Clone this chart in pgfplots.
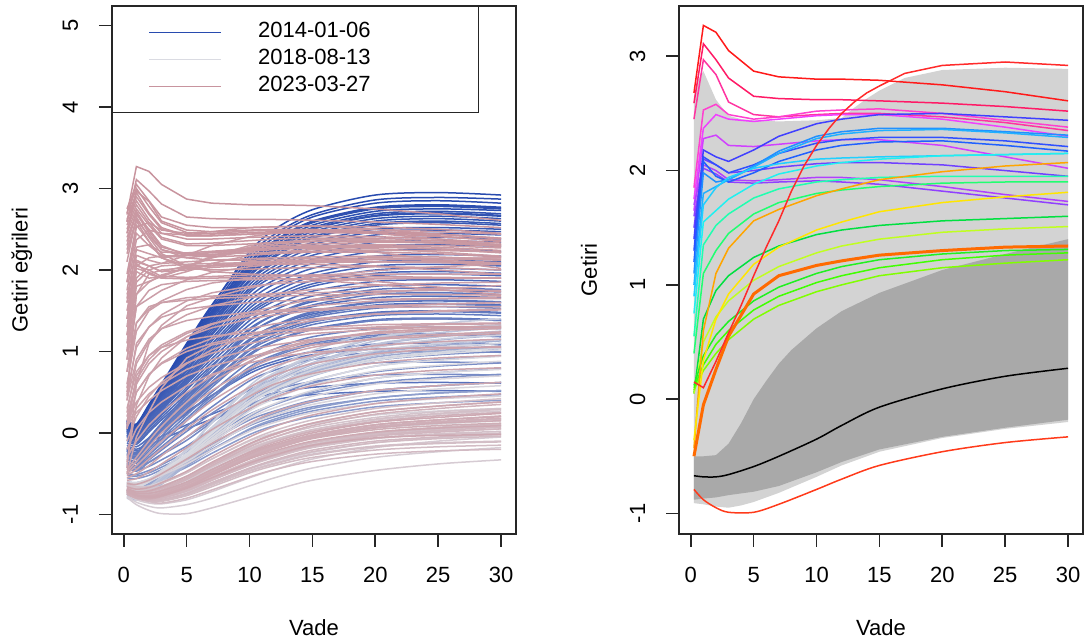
\documentclass[border=0pt]{standalone}
\usepackage{fontspec}
\setmainfont{Liberation Sans}
\usepackage{pgfplots}
\pgfplotsset{compat=1.18}

% colour ramp for the yield curves (2014 -> 2018 -> 2023)
\definecolor{blueL}{RGB}{40,75,175}
\definecolor{greyL}{RGB}{218,219,226}
\definecolor{pinkL}{RGB}{200,148,158}
% functional boxplot regions
\definecolor{boxgrey}{RGB}{211,211,211}
\definecolor{iqrgrey}{RGB}{169,169,169}
% rainbow colours of the outlying curves
\definecolor{o1}{HTML}{FF1A1A}\definecolor{o2}{HTML}{FF1A66}\definecolor{o3}{HTML}{FF33A0}
\definecolor{o4}{HTML}{FF40D0}\definecolor{o5}{HTML}{F040FF}\definecolor{o6}{HTML}{D040FF}
\definecolor{o7}{HTML}{B040FF}\definecolor{o8}{HTML}{9040FF}\definecolor{o9}{HTML}{7040FF}
\definecolor{o10}{HTML}{4040FF}\definecolor{o11}{HTML}{3050FF}\definecolor{o12}{HTML}{2060FF}
\definecolor{o13}{HTML}{2090FF}\definecolor{o14}{HTML}{20B0FF}\definecolor{o15}{HTML}{20D0FF}
\definecolor{o16}{HTML}{20F0F0}\definecolor{o17}{HTML}{20FFB0}\definecolor{o18}{HTML}{20FF70}
\definecolor{o19}{HTML}{00E040}\definecolor{o20}{HTML}{C0FF20}\definecolor{o21}{HTML}{80FF00}
\definecolor{o22}{HTML}{40FF00}\definecolor{o23}{HTML}{20F020}\definecolor{o24}{HTML}{FFA500}
\definecolor{o25}{HTML}{FFE600}\definecolor{o26}{HTML}{FF6A00}\definecolor{o27}{HTML}{FF2A2A}
\definecolor{o28}{HTML}{FF3A1A}

% maturity grid (years) shared by all curves
\newcommand\mat[1]{\ifcase#1 0.25\or 1\or 2\or 3\or 5\or 7\or 10\or 12\or 15\or 20\or 25\or 30\fi}
% pair a list of yields with the maturity grid
\newcommand\mkpts[1]{\gdef\pts{}\foreach \yv [count=\k from 0] in {#1}{\xdef\pts{\pts(\mat{\k},\yv)}}}
% left panel: #1 extra options, #2 position in time (0..1), #3 yields
\newcommand\crvL[3]{%
  \mkpts{#3}%
  \pgfmathsetmacro\rampt{#2}%
  \ifdim\rampt pt<0.5pt
    \pgfmathtruncatemacro\pc{round(200*\rampt)}%
    \edef\next{\noexpand\addplot[curveL,#1,color=greyL!\pc!blueL] coordinates {\pts};}%
  \else
    \pgfmathtruncatemacro\pc{round(200*(\rampt-0.5))}%
    \edef\next{\noexpand\addplot[curveL,#1,color=pinkL!\pc!greyL] coordinates {\pts};}%
  \fi
  \next}
% right panel: #1 options, #2 yields
\newcommand\crvR[2]{\mkpts{#2}\edef\next{\noexpand\addplot[curveR,#1] coordinates {\pts};}\next}
% legend text cell of fixed width
\newcommand\legtext[1]{\makebox[92pt][l]{#1}}

\pgfplotsset{
  curveL/.style={line width=0.75pt, mark=none},
  curveR/.style={line width=0.75pt, mark=none},
  Rbox/.style={
    scale only axis, width=202pt, height=264pt, anchor=south west,
    axis line style={line width=0.8pt, black!85},
    tick style={line width=0.8pt, black!85},
    tick align=outside, major tick length=6.5pt, tick pos=left,
    xmin=-0.94, xmax=31.19,
    xtick={0,5,...,30}, xticklabels={0,5,10,15,20,25,30},
    xticklabel style={anchor=base, inner sep=0pt, yshift=-18pt},
    yticklabel style={rotate=90, anchor=base, inner sep=0pt, yshift=10.5pt},
    xlabel={Vade},
    xlabel style={at={(axis description cs:0.5,0)}, anchor=center, yshift=-47pt},
  },
}

\begin{document}
\begin{tikzpicture}[font=\fontsize{11}{13.2}\selectfont]
%---------------------------------------------------------------- left panel
\begin{axis}[Rbox, at={(56pt,54.5pt)},
  ymin=-1.24, ymax=5.24, ytick={-1,0,...,5}, yticklabels={-1,0,1,2,3,4,5},
  ylabel={Getiri eğrileri},
  ylabel style={at={(axis description cs:-0.223,0.5)}, anchor=center},
  legend style={at={(axis description cs:0,1)}, anchor=north west, draw=black!85,
    line width=0.6pt, fill=white, inner xsep=18pt, inner ysep=6.25pt,
    nodes={inner sep=0pt, text height=9.25pt, text depth=4.25pt},
    /tikz/every odd column/.append style={column sep=18pt}},
  legend image code/.code={\draw[#1,line width=0.8pt] (0pt,0pt) -- (36pt,0pt);},
  legend cell align=left,
]
\addlegendimage{color=blueL}
\addlegendentry{\legtext{2014-01-06}}
\addlegendimage{color=greyL}
\addlegendentry{\legtext{2018-08-13}}
\addlegendimage{color=pinkL}
\addlegendentry{\legtext{2023-03-27}}

% 2014-2015
\crvL{smooth}{0.000}{0.15,0.10,0.33,0.58,1.08,1.56,2.22,2.50,2.74,2.92,2.95,2.92}
\crvL{smooth}{0.003}{0.16,0.11,0.35,0.60,1.10,1.57,2.18,2.44,2.68,2.86,2.89,2.87}
\crvL{smooth}{0.006}{0.15,0.10,0.34,0.58,1.06,1.53,2.14,2.40,2.65,2.82,2.85,2.82}
\crvL{smooth}{0.009}{0.14,0.09,0.32,0.56,1.03,1.49,2.09,2.35,2.59,2.76,2.79,2.76}
\crvL{smooth}{0.012}{0.14,0.09,0.33,0.57,1.04,1.50,2.10,2.36,2.60,2.77,2.80,2.77}
\crvL{smooth}{0.015}{0.12,0.07,0.30,0.54,1.00,1.46,2.05,2.31,2.55,2.72,2.75,2.73}
\crvL{smooth}{0.018}{0.13,0.08,0.31,0.56,1.02,1.48,2.08,2.34,2.58,2.75,2.78,2.75}
\crvL{smooth}{0.021}{0.12,0.07,0.30,0.53,0.98,1.43,2.02,2.27,2.50,2.66,2.69,2.66}
\crvL{smooth}{0.024}{0.11,0.06,0.29,0.53,0.99,1.44,2.03,2.28,2.52,2.69,2.72,2.69}
\crvL{smooth}{0.028}{0.09,0.04,0.27,0.51,0.97,1.42,2.01,2.26,2.50,2.67,2.70,2.67}
\crvL{smooth}{0.032}{0.13,0.08,0.30,0.54,0.98,1.42,1.99,2.24,2.47,2.63,2.66,2.63}
\crvL{smooth}{0.036}{0.10,0.05,0.27,0.50,0.95,1.39,1.97,2.21,2.44,2.60,2.63,2.60}
\crvL{smooth}{0.040}{0.08,0.03,0.25,0.48,0.93,1.36,1.94,2.18,2.41,2.57,2.60,2.57}
\crvL{smooth}{0.044}{0.07,0.02,0.24,0.47,0.92,1.35,1.92,2.16,2.39,2.55,2.58,2.55}
\crvL{smooth}{0.048}{0.09,0.04,0.26,0.48,0.91,1.33,1.88,2.11,2.34,2.50,2.52,2.50}
\crvL{smooth}{0.052}{0.07,0.02,0.24,0.46,0.89,1.31,1.86,2.09,2.31,2.47,2.49,2.47}
\crvL{smooth}{0.056}{0.06,0.01,0.22,0.44,0.87,1.28,1.82,2.05,2.27,2.43,2.45,2.43}
\crvL{smooth}{0.060}{0.05,0.00,0.21,0.42,0.84,1.25,1.78,2.01,2.22,2.38,2.40,2.38}
\crvL{smooth}{0.064}{0.05,0.00,0.21,0.42,0.83,1.22,1.75,1.97,2.18,2.34,2.36,2.34}
\crvL{smooth}{0.068}{0.04,-0.01,0.20,0.40,0.81,1.20,1.72,1.93,2.13,2.29,2.31,2.29}
\crvL{smooth}{0.072}{0.03,-0.02,0.18,0.38,0.78,1.16,1.67,1.88,2.08,2.23,2.25,2.23}
\crvL{smooth}{0.076}{0.02,-0.03,0.18,0.37,0.76,1.13,1.62,1.83,2.02,2.17,2.19,2.17}
\crvL{smooth}{0.080}{0.03,-0.02,0.17,0.36,0.73,1.09,1.57,1.77,1.96,2.10,2.12,2.10}
\crvL{smooth}{0.084}{0.02,-0.03,0.16,0.35,0.71,1.06,1.53,1.73,1.92,2.05,2.07,2.05}
\crvL{smooth}{0.088}{0.01,-0.04,0.14,0.33,0.68,1.03,1.49,1.68,1.87,2.00,2.02,2.00}
\crvL{smooth}{0.092}{0.00,-0.05,0.13,0.31,0.66,1.00,1.46,1.65,1.83,1.96,1.98,1.96}
\crvL{smooth}{0.096}{-0.02,-0.07,0.11,0.29,0.64,0.98,1.43,1.62,1.80,1.93,1.95,1.93}
\crvL{smooth}{0.100}{-0.03,-0.08,0.10,0.28,0.62,0.95,1.38,1.56,1.74,1.86,1.88,1.86}
\crvL{smooth}{0.104}{-0.02,-0.07,0.10,0.27,0.60,0.91,1.33,1.51,1.68,1.80,1.82,1.80}
\crvL{smooth}{0.108}{-0.04,-0.09,0.08,0.24,0.56,0.87,1.28,1.45,1.61,1.73,1.75,1.73}
\crvL{smooth}{0.112}{-0.05,-0.10,0.06,0.22,0.53,0.83,1.22,1.39,1.55,1.66,1.68,1.66}
\crvL{smooth}{0.116}{-0.07,-0.12,0.03,0.19,0.48,0.77,1.15,1.31,1.46,1.57,1.59,1.57}
\crvL{smooth}{0.120}{-0.09,-0.14,0.01,0.16,0.44,0.71,1.08,1.23,1.38,1.48,1.50,1.48}
\crvL{smooth}{0.124}{-0.12,-0.17,-0.06,0.05,0.26,0.46,0.73,0.85,0.96,1.03,1.04,1.03}
\crvL{smooth}{0.128}{-0.15,-0.20,-0.12,-0.04,0.10,0.23,0.41,0.49,0.56,0.61,0.62,0.61}
\crvL{smooth}{0.132}{-0.17,-0.22,-0.15,-0.08,0.05,0.17,0.34,0.41,0.47,0.51,0.52,0.51}
\crvL{smooth}{0.136}{-0.19,-0.24,-0.11,0.00,0.24,0.46,0.76,0.88,1.00,1.09,1.10,1.09}
\crvL{smooth}{0.140}{-0.20,-0.25,-0.10,0.04,0.33,0.60,0.97,1.13,1.28,1.39,1.41,1.39}
\crvL{smooth}{0.144}{-0.22,-0.27,-0.10,0.07,0.40,0.71,1.13,1.31,1.48,1.60,1.62,1.60}
\crvL{smooth}{0.148}{-0.21,-0.26,-0.08,0.10,0.44,0.77,1.21,1.40,1.57,1.70,1.72,1.70}
\crvL{smooth}{0.152}{-0.19,-0.24,-0.06,0.12,0.47,0.81,1.26,1.45,1.63,1.76,1.78,1.76}
\crvL{smooth}{0.156}{-0.20,-0.25,-0.09,0.08,0.41,0.72,1.14,1.32,1.49,1.61,1.63,1.61}
\crvL{smooth}{0.160}{-0.22,-0.27,-0.11,0.06,0.37,0.68,1.08,1.25,1.42,1.53,1.55,1.53}
\crvL{smooth}{0.165}{-0.24,-0.29,-0.13,0.03,0.33,0.62,1.01,1.17,1.33,1.44,1.46,1.44}
\crvL{smooth}{0.170}{-0.25,-0.30,-0.15,0.01,0.30,0.59,0.96,1.12,1.27,1.38,1.40,1.38}
\crvL{smooth}{0.175}{-0.26,-0.31,-0.14,0.02,0.33,0.63,1.03,1.20,1.36,1.47,1.49,1.47}
\crvL{smooth}{0.180}{-0.27,-0.32,-0.15,0.02,0.35,0.67,1.09,1.27,1.44,1.56,1.58,1.56}
\crvL{smooth}{0.185}{-0.30,-0.35,-0.19,-0.04,0.27,0.56,0.95,1.12,1.27,1.38,1.40,1.38}
\crvL{smooth}{0.190}{-0.32,-0.37,-0.22,-0.07,0.22,0.50,0.87,1.03,1.18,1.28,1.30,1.28}
\crvL{smooth}{0.195}{-0.35,-0.40,-0.25,-0.10,0.18,0.45,0.81,0.96,1.10,1.20,1.22,1.20}
\crvL{smooth}{0.200}{-0.37,-0.42,-0.27,-0.13,0.15,0.42,0.78,0.94,1.08,1.18,1.20,1.18}
\crvL{smooth}{0.205}{-0.38,-0.43,-0.30,-0.17,0.08,0.32,0.64,0.77,0.90,0.99,1.00,0.99}
\crvL{smooth}{0.210}{-0.40,-0.45,-0.33,-0.21,0.02,0.24,0.53,0.66,0.77,0.86,0.87,0.86}
\crvL{smooth}{0.215}{-0.42,-0.47,-0.36,-0.26,-0.05,0.15,0.42,0.53,0.63,0.71,0.72,0.71}
% 2016-2019
\crvL{smooth}{0.22}{-0.40,-0.41,-0.36,-0.27,-0.09,0.13,0.44,0.58,0.73,0.89,0.96,1.00}
\crvL{smooth}{0.23}{-0.45,-0.46,-0.41,-0.33,-0.16,0.05,0.34,0.47,0.61,0.75,0.82,0.86}
\crvL{smooth}{0.24}{-0.50,-0.51,-0.46,-0.39,-0.23,-0.04,0.23,0.35,0.49,0.62,0.68,0.72}
\crvL{smooth}{0.25}{-0.52,-0.53,-0.49,-0.42,-0.27,-0.09,0.16,0.27,0.40,0.52,0.58,0.62}
\crvL{smooth}{0.26}{-0.55,-0.56,-0.52,-0.45,-0.31,-0.14,0.09,0.20,0.32,0.43,0.49,0.52}
\crvL{smooth}{0.27}{-0.60,-0.61,-0.57,-0.51,-0.37,-0.20,0.04,0.15,0.27,0.39,0.44,0.47}
\crvL{smooth}{0.28}{-0.65,-0.66,-0.62,-0.56,-0.42,-0.25,-0.02,0.09,0.20,0.32,0.37,0.40}
\crvL{smooth}{0.29}{-0.65,-0.66,-0.62,-0.55,-0.40,-0.21,0.05,0.17,0.30,0.43,0.49,0.52}
\crvL{smooth}{0.30}{-0.65,-0.66,-0.61,-0.54,-0.37,-0.17,0.11,0.24,0.38,0.52,0.58,0.62}
\crvL{smooth}{0.31}{-0.68,-0.70,-0.63,-0.55,-0.35,-0.12,0.20,0.35,0.51,0.67,0.74,0.79}
\crvL{smooth}{0.32}{-0.70,-0.72,-0.65,-0.55,-0.34,-0.07,0.29,0.46,0.64,0.82,0.90,0.95}
\crvL{smooth}{0.33}{-0.70,-0.72,-0.64,-0.54,-0.31,-0.03,0.36,0.54,0.74,0.93,1.01,1.07}
\crvL{smooth}{0.34}{-0.72,-0.74,-0.66,-0.55,-0.30,0.01,0.43,0.62,0.84,1.05,1.14,1.20}
\crvL{smooth}{0.35}{-0.76,-0.78,-0.70,-0.59,-0.35,-0.05,0.37,0.56,0.77,0.98,1.07,1.13}
\crvL{smooth}{0.36}{-0.80,-0.82,-0.74,-0.63,-0.39,-0.10,0.31,0.50,0.70,0.90,0.99,1.05}
\crvL{smooth}{0.37}{-0.78,-0.80,-0.72,-0.61,-0.36,-0.06,0.35,0.54,0.75,0.95,1.04,1.10}
\crvL{smooth}{0.38}{-0.75,-0.77,-0.69,-0.58,-0.33,-0.03,0.39,0.58,0.79,1.00,1.09,1.15}
\crvL{smooth}{0.39}{-0.74,-0.76,-0.68,-0.56,-0.30,0.02,0.45,0.65,0.86,1.08,1.18,1.24}
\crvL{smooth}{0.40}{-0.72,-0.74,-0.66,-0.54,-0.27,0.06,0.50,0.71,0.93,1.16,1.26,1.32}
\crvL{smooth}{0.41}{-0.75,-0.77,-0.69,-0.57,-0.30,0.03,0.48,0.68,0.90,1.13,1.23,1.29}
\crvL{smooth}{0.42}{-0.78,-0.80,-0.72,-0.60,-0.33,-0.01,0.44,0.64,0.86,1.09,1.19,1.25}
\crvL{smooth}{0.43}{-0.72,-0.74,-0.66,-0.54,-0.27,0.06,0.51,0.72,0.94,1.17,1.27,1.33}
\crvL{smooth}{0.44}{-0.65,-0.67,-0.59,-0.47,-0.20,0.13,0.58,0.79,1.01,1.24,1.34,1.40}
\crvL{smooth}{0.45}{-0.63,-0.65,-0.58,-0.46,-0.20,0.12,0.55,0.74,0.95,1.17,1.27,1.32}
\crvL{smooth}{0.46}{-0.62,-0.64,-0.57,-0.46,-0.22,0.07,0.47,0.65,0.85,1.05,1.15,1.20}
\crvL{smooth}{0.47}{-0.64,-0.66,-0.59,-0.48,-0.25,0.05,0.44,0.62,0.81,1.01,1.10,1.15}
\crvL{smooth}{0.48}{-0.65,-0.67,-0.60,-0.49,-0.27,0.02,0.40,0.58,0.77,0.96,1.05,1.10}
\crvL{smooth}{0.49}{-0.63,-0.65,-0.58,-0.48,-0.27,0.00,0.37,0.54,0.73,0.91,0.99,1.04}
\crvL{smooth}{0.50}{-0.62,-0.64,-0.57,-0.47,-0.26,0.00,0.36,0.53,0.71,0.89,0.97,1.02}
\crvL{smooth}{0.51}{-0.64,-0.66,-0.59,-0.49,-0.29,-0.04,0.31,0.47,0.64,0.82,0.89,0.94}
\crvL{smooth}{0.52}{-0.65,-0.67,-0.60,-0.51,-0.31,-0.07,0.27,0.42,0.59,0.76,0.83,0.88}
\crvL{smooth}{0.53}{-0.62,-0.64,-0.58,-0.50,-0.31,-0.09,0.22,0.36,0.52,0.67,0.74,0.78}
\crvL{smooth}{0.54}{-0.60,-0.61,-0.56,-0.48,-0.31,-0.11,0.18,0.31,0.45,0.60,0.66,0.70}
\crvL{smooth}{0.55}{-0.61,-0.62,-0.58,-0.50,-0.35,-0.16,0.10,0.22,0.35,0.48,0.54,0.58}
\crvL{smooth}{0.56}{-0.62,-0.63,-0.59,-0.52,-0.38,-0.21,0.02,0.13,0.25,0.36,0.42,0.45}
\crvL{smooth}{0.57}{-0.65,-0.67,-0.65,-0.60,-0.48,-0.32,-0.10,0.00,0.11,0.22,0.27,0.30}
\crvL{smooth}{0.58}{-0.68,-0.72,-0.72,-0.70,-0.58,-0.44,-0.24,-0.15,-0.05,0.06,0.11,0.15}
\crvL{smooth}{0.59}{-0.72,-0.78,-0.80,-0.80,-0.72,-0.61,-0.44,-0.35,-0.24,-0.12,-0.06,-0.02}
\crvL{smooth}{0.60}{-0.78,-0.85,-0.90,-0.92,-0.88,-0.80,-0.65,-0.55,-0.43,-0.30,-0.23,-0.18}
\crvL{smooth}{0.61}{-0.79,-0.88,-0.95,-0.99,-0.99,-0.92,-0.79,-0.70,-0.58,-0.46,-0.38,-0.33}
\crvL{smooth}{0.62}{-0.75,-0.82,-0.86,-0.87,-0.82,-0.72,-0.55,-0.45,-0.32,-0.18,-0.10,-0.05}
\crvL{smooth}{0.63}{-0.70,-0.76,-0.78,-0.77,-0.69,-0.56,-0.37,-0.27,-0.15,-0.03,0.04,0.09}
\crvL{smooth}{0.64}{-0.65,-0.70,-0.71,-0.68,-0.57,-0.42,-0.21,-0.10,0.02,0.14,0.21,0.25}
\crvL{smooth}{0.65}{-0.62,-0.68,-0.70,-0.67,-0.56,-0.41,-0.19,-0.08,0.04,0.16,0.23,0.27}
% 2020-2021
\crvL{smooth}{0.66}{-0.60,-0.66,-0.68,-0.65,-0.53,-0.38,-0.16,-0.05,0.07,0.19,0.26,0.30}
\crvL{smooth}{0.67}{-0.68,-0.75,-0.78,-0.77,-0.68,-0.55,-0.36,-0.26,-0.14,-0.02,0.02,0.05}
\crvL{smooth}{0.675}{-0.66,-0.72,-0.74,-0.72,-0.62,-0.48,-0.28,-0.17,-0.05,0.07,0.13,0.17}
\crvL{smooth}{0.68}{-0.70,-0.78,-0.82,-0.82,-0.75,-0.63,-0.46,-0.37,-0.26,-0.16,-0.12,-0.10}
\crvL{smooth}{0.685}{-0.69,-0.76,-0.79,-0.78,-0.70,-0.57,-0.39,-0.29,-0.17,-0.06,-0.01,0.02}
\crvL{smooth}{0.69}{-0.62,-0.66,-0.66,-0.62,-0.49,-0.32,-0.09,0.03,0.16,0.30,0.37,0.42}
\crvL{smooth}{0.695}{-0.64,-0.69,-0.70,-0.67,-0.56,-0.41,-0.20,-0.09,0.04,0.17,0.24,0.29}
\crvL{smooth}{0.70}{-0.70,-0.77,-0.80,-0.79,-0.71,-0.58,-0.40,-0.30,-0.18,-0.07,-0.02,0.00}
\crvL{smooth}{0.705}{-0.71,-0.79,-0.83,-0.83,-0.76,-0.64,-0.47,-0.38,-0.27,-0.17,-0.13,-0.11}
\crvL{smooth}{0.715}{-0.70,-0.77,-0.79,-0.77,-0.68,-0.54,-0.35,-0.24,-0.12,-0.01,0.05,0.08}
\crvL{smooth}{0.72}{-0.72,-0.80,-0.84,-0.84,-0.77,-0.66,-0.49,-0.40,-0.30,-0.21,-0.17,-0.15}
\crvL{smooth}{0.725}{-0.73,-0.80,-0.83,-0.82,-0.74,-0.62,-0.44,-0.34,-0.23,-0.12,-0.07,-0.04}
\crvL{smooth}{0.73}{-0.70,-0.79,-0.84,-0.86,-0.80,-0.70,-0.54,-0.45,-0.35,-0.26,-0.22,-0.20}
\crvL{smooth}{0.735}{-0.71,-0.78,-0.80,-0.78,-0.69,-0.55,-0.35,-0.24,-0.11,0.01,0.07,0.11}
\crvL{smooth}{0.74}{-0.72,-0.79,-0.81,-0.79,-0.70,-0.56,-0.36,-0.25,-0.12,0.00,0.06,0.10}
\crvL{smooth}{0.745}{-0.73,-0.80,-0.83,-0.82,-0.74,-0.61,-0.43,-0.33,-0.21,-0.10,-0.05,-0.01}
\crvL{smooth}{0.755}{-0.74,-0.80,-0.82,-0.80,-0.71,-0.58,-0.38,-0.27,-0.15,-0.03,0.03,0.07}
\crvL{smooth}{0.76}{-0.75,-0.80,-0.82,-0.80,-0.71,-0.58,-0.39,-0.28,-0.16,-0.04,0.01,0.05}
\crvL{smooth}{0.765}{-0.72,-0.77,-0.78,-0.75,-0.65,-0.50,-0.29,-0.18,-0.05,0.07,0.13,0.17}
\crvL{smooth}{0.77}{-0.70,-0.75,-0.76,-0.73,-0.62,-0.47,-0.26,-0.15,-0.02,0.10,0.16,0.20}
\crvL{smooth}{0.775}{-0.71,-0.76,-0.77,-0.74,-0.63,-0.48,-0.27,-0.16,-0.03,0.10,0.16,0.21}
\crvL{smooth}{0.78}{-0.70,-0.74,-0.74,-0.70,-0.57,-0.40,-0.17,-0.05,0.09,0.23,0.30,0.35}
\crvL{smooth}{0.79}{-0.69,-0.73,-0.72,-0.68,-0.55,-0.38,-0.14,-0.02,0.12,0.26,0.33,0.38}
\crvL{smooth}{0.80}{-0.72,-0.76,-0.76,-0.73,-0.61,-0.45,-0.23,-0.11,0.02,0.14,0.21,0.25}
\crvL{smooth}{0.81}{-0.73,-0.78,-0.79,-0.76,-0.65,-0.50,-0.28,-0.17,-0.04,0.08,0.14,0.18}
\crvL{smooth}{0.82}{-0.75,-0.80,-0.81,-0.78,-0.67,-0.52,-0.31,-0.20,-0.07,0.04,0.09,0.12}
\crvL{smooth}{0.83}{-0.74,-0.79,-0.80,-0.77,-0.66,-0.51,-0.30,-0.19,-0.06,0.06,0.12,0.15}
\crvL{smooth}{0.84}{-0.72,-0.77,-0.77,-0.74,-0.63,-0.48,-0.26,-0.15,-0.03,0.10,0.16,0.20}
\crvL{smooth}{0.845}{-0.71,-0.77,-0.78,-0.76,-0.66,-0.52,-0.32,-0.22,-0.10,0.01,0.06,0.09}
\crvL{smooth}{0.85}{-0.70,-0.76,-0.79,-0.77,-0.68,-0.55,-0.37,-0.27,-0.15,-0.06,-0.03,-0.02}
\crvL{smooth}{0.855}{-0.69,-0.74,-0.74,-0.71,-0.60,-0.45,-0.24,-0.13,0.00,0.13,0.19,0.24}
\crvL{smooth}{0.86}{-0.68,-0.72,-0.71,-0.66,-0.53,-0.36,-0.13,-0.01,0.12,0.26,0.33,0.38}
\crvL{smooth}{0.865}{-0.66,-0.69,-0.67,-0.61,-0.47,-0.29,-0.05,0.08,0.22,0.36,0.43,0.48}
% 2022-2023
\crvL{smooth}{0.875}{-0.62,-0.63,-0.58,-0.50,-0.32,-0.13,0.12,0.26,0.39,0.52,0.58,0.62}
\crvL{smooth}{0.878}{-0.58,-0.56,-0.48,-0.38,-0.18,0.04,0.30,0.44,0.58,0.71,0.77,0.80}
\crvL{smooth}{0.880}{-0.55,-0.50,-0.40,-0.28,-0.05,0.18,0.45,0.60,0.73,0.86,0.92,0.95}
\crvL{smooth}{0.883}{-0.52,-0.45,-0.32,-0.19,0.05,0.28,0.56,0.71,0.85,0.97,1.03,1.06}
\crvL{smooth}{0.885}{-0.50,-0.40,-0.25,-0.10,0.15,0.39,0.67,0.82,0.95,1.07,1.12,1.15}
\crvL{smooth}{0.888}{-0.48,-0.35,-0.17,0.00,0.28,0.52,0.79,0.92,1.05,1.16,1.21,1.24}
\crvL{smooth}{0.890}{-0.45,-0.30,-0.10,0.08,0.38,0.62,0.88,1.00,1.12,1.23,1.28,1.30}
\crvL{}{0.892}{-0.50,-0.05,0.26,0.55,0.92,1.08,1.17,1.21,1.26,1.30,1.33,1.34}
\crvL{}{0.893}{-0.30,-0.10,0.10,0.25,0.50,0.70,0.92,1.03,1.14,1.24,1.28,1.30}
\crvL{}{0.894}{0.08,0.25,0.40,0.52,0.70,0.82,0.94,1.00,1.08,1.15,1.19,1.22}
\crvL{}{0.895}{0.10,0.30,0.48,0.60,0.78,0.90,1.02,1.08,1.15,1.22,1.26,1.28}
\crvL{}{0.896}{0.12,0.38,0.56,0.68,0.86,0.98,1.10,1.16,1.22,1.27,1.30,1.31}
\crvL{}{0.897}{-0.10,0.20,0.45,0.62,0.85,1.02,1.20,1.29,1.38,1.46,1.50,1.52}
\crvL{}{0.898}{-0.20,0.05,0.25,0.38,0.58,0.72,0.86,0.93,0.99,1.03,1.05,1.05}
\crvL{}{0.900}{0.10,0.50,0.72,0.85,1.00,1.10,1.20,1.25,1.29,1.33,1.34,1.35}
\crvL{}{0.902}{0.05,0.50,0.72,0.86,1.04,1.16,1.28,1.34,1.40,1.46,1.49,1.51}
\crvL{}{0.903}{0.20,0.65,0.90,1.05,1.22,1.34,1.45,1.50,1.56,1.62,1.65,1.67}
\crvL{}{0.905}{0.05,0.70,0.95,1.08,1.24,1.34,1.44,1.48,1.52,1.56,1.58,1.60}
\crvL{}{0.907}{0.40,0.90,1.15,1.28,1.38,1.43,1.48,1.50,1.52,1.54,1.55,1.55}
\crvL{}{0.909}{0.25,0.85,1.12,1.28,1.45,1.56,1.66,1.71,1.76,1.81,1.84,1.85}
\crvL{}{0.910}{0.30,0.75,0.95,1.05,1.14,1.19,1.23,1.25,1.27,1.29,1.30,1.30}
\crvL{}{0.912}{-0.36,0.34,0.70,0.92,1.18,1.33,1.48,1.55,1.64,1.72,1.77,1.81}
\crvL{}{0.913}{0.15,0.60,0.85,1.00,1.18,1.29,1.40,1.45,1.50,1.55,1.58,1.60}
\crvL{}{0.914}{-0.43,0.60,1.10,1.32,1.56,1.66,1.78,1.84,1.92,1.99,2.04,2.07}
\crvL{}{0.916}{0.50,1.05,1.30,1.42,1.52,1.56,1.60,1.62,1.63,1.64,1.65,1.65}
\crvL{}{0.918}{0.60,1.25,1.50,1.60,1.66,1.68,1.70,1.71,1.72,1.74,1.75,1.75}
\crvL{}{0.920}{0.40,1.10,1.30,1.45,1.62,1.72,1.80,1.83,1.86,1.89,1.90,1.90}
\crvL{}{0.922}{0.55,1.35,1.52,1.62,1.76,1.84,1.90,1.92,1.94,1.95,1.95,1.95}
\crvL{}{0.925}{0.75,1.35,1.55,1.60,1.63,1.65,1.67,1.68,1.69,1.70,1.70,1.69}
\crvL{}{0.928}{0.90,1.55,1.75,1.82,1.86,1.87,1.88,1.89,1.89,1.90,1.90,1.90}
\crvL{}{0.930}{0.75,1.55,1.65,1.75,1.88,1.97,2.04,2.07,2.10,2.13,2.14,2.15}
\crvL{}{0.932}{0.90,1.70,1.85,1.94,2.02,2.06,2.10,2.11,2.12,2.13,2.14,2.15}
\crvL{}{0.935}{1.20,1.85,2.00,2.05,2.07,2.08,2.09,2.10,2.10,2.10,2.10,2.08}
\crvL{}{0.938}{1.40,2.05,2.15,2.17,2.18,2.19,2.21,2.22,2.23,2.24,2.24,2.22}
\crvL{}{0.940}{1.00,1.80,1.86,1.92,2.03,2.15,2.28,2.32,2.35,2.36,2.33,2.29}
\crvL{}{0.942}{1.10,1.98,1.90,1.92,2.04,2.17,2.30,2.34,2.37,2.37,2.34,2.31}
\crvL{}{0.944}{1.20,2.08,1.95,1.90,1.98,2.08,2.18,2.22,2.25,2.26,2.22,2.17}
\crvL{}{0.945}{0.45,1.70,1.95,2.00,2.03,2.05,2.07,2.08,2.09,2.10,2.09,2.07}
\crvL{}{0.946}{1.30,2.12,2.05,1.98,2.05,2.15,2.24,2.27,2.29,2.29,2.26,2.21}
\crvL{}{0.947}{1.00,1.90,2.05,2.08,2.10,2.12,2.14,2.15,2.16,2.17,2.16,2.13}
\crvL{}{0.948}{1.40,2.18,2.12,2.08,2.18,2.30,2.41,2.45,2.49,2.50,2.47,2.44}
\crvL{}{0.950}{1.60,2.25,2.20,2.15,2.18,2.22,2.27,2.30,2.32,2.34,2.34,2.31}
\crvL{}{0.952}{1.85,2.45,2.30,2.18,2.15,2.18,2.24,2.27,2.30,2.31,2.30,2.27}
\crvL{}{0.954}{1.50,2.10,2.05,1.98,2.00,2.03,2.06,2.07,2.07,2.05,2.00,1.95}
\crvL{}{0.955}{1.60,2.02,1.97,1.90,1.89,1.90,1.91,1.90,1.88,1.82,1.76,1.70}
\crvL{}{0.956}{1.70,2.05,2.00,1.92,1.91,1.92,1.94,1.94,1.92,1.86,1.79,1.73}
\crvL{}{0.957}{1.95,2.55,2.35,2.15,2.05,2.05,2.08,2.10,2.12,2.13,2.12,2.09}
\crvL{}{0.958}{2.10,2.65,2.40,2.20,2.05,1.98,1.95,1.94,1.93,1.92,1.91,1.90}
\crvL{}{0.960}{2.20,2.60,2.35,2.15,2.02,2.00,2.01,2.02,2.03,2.04,2.03,2.00}
\crvL{}{0.962}{2.30,2.70,2.45,2.25,2.15,2.12,2.12,2.13,2.14,2.15,2.14,2.12}
\crvL{}{0.963}{2.25,2.62,2.42,2.25,2.18,2.19,2.23,2.25,2.27,2.28,2.26,2.22}
\crvL{}{0.964}{1.65,2.28,2.31,2.22,2.21,2.23,2.26,2.27,2.27,2.22,2.12,2.02}
\crvL{}{0.966}{1.75,2.37,2.49,2.45,2.43,2.45,2.48,2.49,2.49,2.45,2.38,2.30}
\crvL{}{0.967}{2.35,2.72,2.48,2.28,2.20,2.21,2.25,2.28,2.30,2.30,2.28,2.24}
\crvL{}{0.968}{1.85,2.53,2.58,2.49,2.45,2.47,2.52,2.53,2.54,2.50,2.44,2.38}
\crvL{}{0.970}{2.40,2.68,2.50,2.30,2.18,2.16,2.18,2.20,2.22,2.22,2.20,2.16}
\crvL{}{0.972}{2.50,2.80,2.58,2.40,2.32,2.33,2.36,2.38,2.39,2.39,2.36,2.31}
\crvL{}{0.975}{2.45,2.75,2.55,2.38,2.30,2.30,2.32,2.34,2.35,2.35,2.33,2.29}
\crvL{}{0.978}{2.60,2.90,2.68,2.50,2.42,2.42,2.44,2.46,2.47,2.47,2.44,2.39}
\crvL{}{0.980}{2.55,2.85,2.62,2.45,2.38,2.38,2.40,2.41,2.42,2.41,2.38,2.33}
\crvL{}{0.985}{2.62,2.95,2.70,2.52,2.42,2.42,2.44,2.45,2.46,2.45,2.41,2.36}
\crvL{}{0.988}{2.70,3.00,2.78,2.58,2.46,2.44,2.46,2.47,2.48,2.47,2.44,2.39}
\crvL{}{0.990}{2.75,3.05,2.85,2.65,2.55,2.52,2.52,2.53,2.54,2.53,2.50,2.45}
\crvL{}{0.994}{2.45,2.97,2.84,2.60,2.49,2.47,2.49,2.50,2.50,2.47,2.42,2.35}
\crvL{}{0.997}{2.59,3.11,2.97,2.81,2.65,2.63,2.62,2.62,2.61,2.59,2.56,2.52}
\crvL{}{1.000}{2.68,3.27,3.21,3.05,2.87,2.82,2.80,2.80,2.79,2.75,2.69,2.61}
\end{axis}

%---------------------------------------------------------------- right panel
\begin{axis}[Rbox, at={(339.5pt,54.5pt)},
  ymin=-1.18, ymax=3.44, ytick={-1,0,...,3}, yticklabels={-1,0,1,2,3},
  ylabel={Getiri},
  ylabel style={at={(axis description cs:-0.223,0.5)}, anchor=center},
]
% envelope of the non-outlying curves
\addplot[fill=boxgrey, draw=none] coordinates {
  (0.25,2.65)(0.5,2.78)(1,2.87)(2,2.62)(3,2.48)(4,2.45)(5,2.44)(7,2.43)(10,2.44)(11,2.45)
  (12,2.46)(13,2.55)(14,2.63)(15,2.70)(17,2.81)(20,2.88)(25,2.90)(30,2.89)
  (30,-0.20)(25,-0.26)(20,-0.34)(15,-0.46)(12,-0.58)(10,-0.68)(7,-0.82)(5,-0.90)
  (4,-0.93)(3,-0.95)(2,-0.94)(1,-0.92)(0.25,-0.91)} -- cycle;
% central 50% region
\addplot[fill=iqrgrey, draw=none] coordinates {
  (0.25,-0.50)(1,-0.50)(2,-0.49)(3,-0.39)(4,-0.21)(5,0.00)(6,0.16)(7,0.31)(8,0.43)
  (10,0.62)(12,0.77)(15,0.93)(20,1.13)(25,1.27)(30,1.40)
  (30,-0.18)(25,-0.25)(20,-0.33)(15,-0.44)(12,-0.55)(10,-0.64)(7,-0.76)(5,-0.81)
  (3,-0.84)(2,-0.86)(1,-0.87)(0.25,-0.88)} -- cycle;
% median curve
\crvR{black, smooth}{-0.67,-0.68,-0.68,-0.66,-0.59,-0.50,-0.35,-0.23,-0.07,0.09,0.20,0.27}
% outlying curves
\crvR{o1}{2.68,3.27,3.21,3.05,2.87,2.82,2.80,2.80,2.79,2.75,2.69,2.61}
\crvR{o2}{2.59,3.11,2.97,2.81,2.65,2.63,2.62,2.62,2.61,2.59,2.56,2.52}
\crvR{o3}{2.45,2.97,2.84,2.60,2.49,2.47,2.49,2.50,2.50,2.47,2.42,2.35}
\crvR{o4}{1.85,2.53,2.58,2.49,2.45,2.47,2.52,2.53,2.54,2.50,2.44,2.38}
\crvR{o5}{1.75,2.37,2.49,2.45,2.43,2.45,2.48,2.49,2.49,2.45,2.38,2.30}
\crvR{o6}{1.65,2.28,2.31,2.22,2.21,2.23,2.26,2.27,2.27,2.22,2.12,2.02}
\crvR{o7}{1.70,2.05,2.00,1.92,1.91,1.92,1.94,1.94,1.92,1.86,1.79,1.73}
\crvR{o8}{1.60,2.02,1.97,1.90,1.89,1.90,1.91,1.90,1.88,1.82,1.76,1.70}
\crvR{o9}{1.50,2.10,2.05,1.98,2.00,2.03,2.06,2.07,2.07,2.05,2.00,1.95}
\crvR{o10}{1.40,2.18,2.12,2.08,2.18,2.30,2.41,2.45,2.49,2.50,2.47,2.44}
\crvR{o11}{1.30,2.12,2.05,1.98,2.05,2.15,2.24,2.27,2.29,2.29,2.26,2.21}
\crvR{o12}{1.20,2.08,1.95,1.90,1.98,2.08,2.18,2.22,2.25,2.26,2.22,2.17}
\crvR{o13}{1.10,1.98,1.90,1.92,2.04,2.17,2.30,2.34,2.37,2.37,2.34,2.31}
\crvR{o14}{1.00,1.80,1.86,1.92,2.03,2.15,2.28,2.32,2.35,2.36,2.33,2.29}
\crvR{o15}{0.90,1.70,1.85,1.94,2.02,2.06,2.10,2.11,2.12,2.13,2.14,2.15}
\crvR{o16}{0.75,1.55,1.65,1.75,1.88,1.97,2.04,2.07,2.10,2.13,2.14,2.15}
\crvR{o17}{0.55,1.35,1.52,1.62,1.76,1.84,1.90,1.92,1.94,1.95,1.95,1.95}
\crvR{o18}{0.40,1.10,1.30,1.45,1.62,1.72,1.80,1.83,1.86,1.89,1.90,1.90}
\crvR{o19}{0.05,0.70,0.95,1.08,1.24,1.34,1.44,1.48,1.52,1.56,1.58,1.60}
\crvR{o20}{0.05,0.50,0.72,0.86,1.04,1.16,1.28,1.34,1.40,1.46,1.49,1.51}
\crvR{o21}{0.08,0.25,0.40,0.52,0.70,0.82,0.94,1.00,1.08,1.15,1.19,1.22}
\crvR{o22}{0.10,0.30,0.48,0.60,0.78,0.90,1.02,1.08,1.15,1.22,1.26,1.28}
\crvR{o23}{0.12,0.38,0.56,0.68,0.86,0.98,1.10,1.16,1.22,1.27,1.30,1.31}
\crvR{o24}{-0.43,0.60,1.10,1.32,1.56,1.66,1.78,1.84,1.92,1.99,2.04,2.07}
\crvR{o25}{-0.36,0.34,0.70,0.92,1.18,1.33,1.48,1.55,1.64,1.72,1.77,1.81}
\crvR{o26, line width=1.5pt}{-0.50,-0.05,0.26,0.55,0.92,1.08,1.17,1.21,1.26,1.30,1.33,1.34}
\addplot[curveR, o27] coordinates {
  (0.25,0.15)(1,0.10)(2,0.33)(3,0.58)(4,0.82)(5,1.08)(6,1.33)(7,1.56)(8,1.82)(9,2.04)
  (10,2.22)(11,2.37)(12,2.50)(13,2.60)(14,2.68)(15,2.74)(17,2.85)(20,2.92)(25,2.95)(30,2.92)};
\crvR{o28, smooth}{-0.79,-0.88,-0.95,-0.99,-0.99,-0.92,-0.79,-0.70,-0.58,-0.46,-0.38,-0.33}
\end{axis}
\pgfresetboundingbox
\path[use as bounding box] (0,0) rectangle (542pt,321.5pt);
\end{tikzpicture}
\end{document}
